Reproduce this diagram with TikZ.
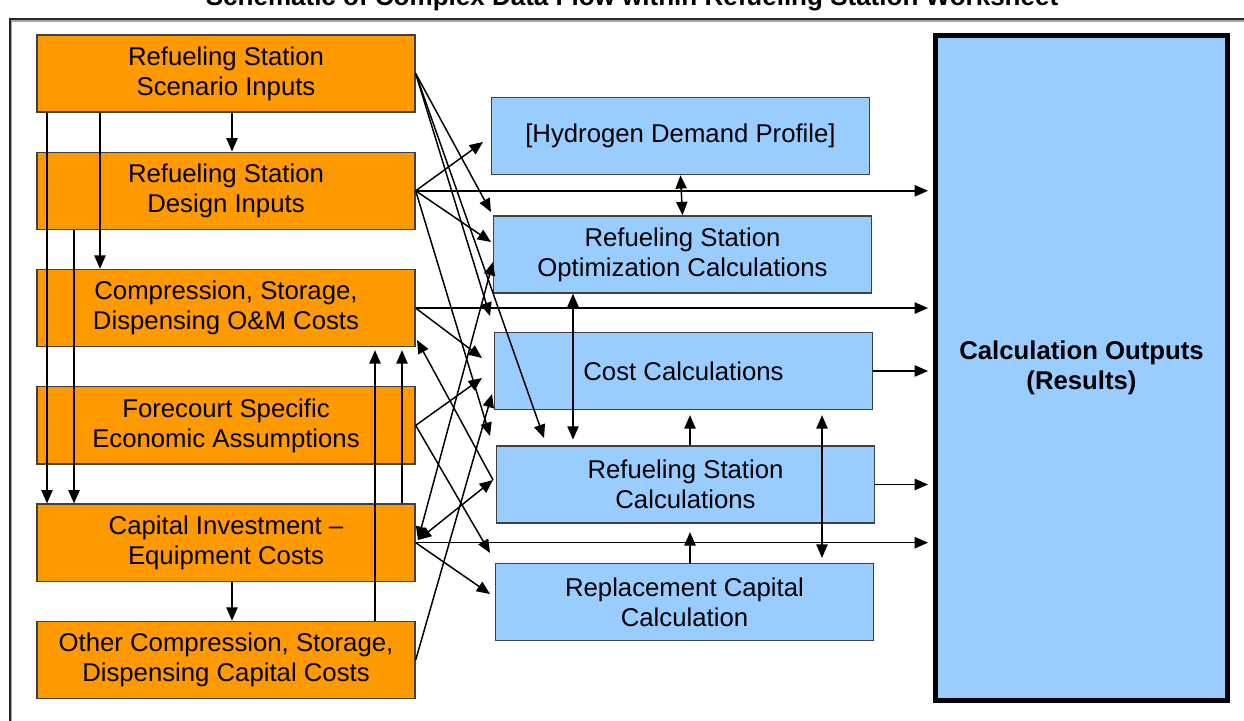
\documentclass[tikz,border=0pt]{standalone}
\usepackage{fontspec}
\setmainfont{Liberation Sans}
\usetikzlibrary{positioning, arrows.meta}

\definecolor{inputorange}{HTML}{FF9900}
\definecolor{calcblue}{HTML}{99CCFF}
\newcommand{\boxfont}{\fontsize{18.3}{21.3}\selectfont}

\tikzset{
  inbox/.style = {rectangle, draw=black!75, line width=0.9pt, fill=inputorange,
                  minimum width=9.45cm, minimum height=1.93cm, align=center, font=\boxfont},
  calcbox/.style = {rectangle, draw=black!75, line width=0.9pt, fill=calcblue,
                    minimum width=9.45cm, minimum height=1.93cm, align=center, font=\boxfont},
  outbox/.style = {rectangle, draw=black, line width=3.5pt, fill=calcblue,
                   minimum width=7.3cm, minimum height=16.62cm, align=center, font=\boxfont\bfseries},
}

\begin{document}
\begin{tikzpicture}[x=0.025cm, y=-0.025cm, >={Triangle[length=9.5pt, width=8pt]}, line width=1.05pt, node distance=0.97cm]
  \useasboundingbox (0,0) rectangle (1244,721);
  \draw[black!35, line width=1.2pt] (11,21) rectangle (1262,745);
  \draw[black!85, line width=1.1pt] (10,19) rectangle (1262,745);
  \node[anchor=base, font=\fontsize{18.5}{22}\selectfont\bfseries] (title) at (632,6)
    {Schematic of Complex Data Flow within Refueling Station Worksheet};

  % input worksheets
  \node[inbox] (scen) at (226,73.5) {Refueling Station\\Scenario Inputs};
  \node[inbox] (design) [below = of scen] {Refueling Station\\Design Inputs};
  \node[inbox] (om) [below = of design] {Compression, Storage,\\Dispensing O\&M Costs};
  \node[inbox] (econ) [below = of om] {Forecourt Specific\\Economic Assumptions};
  \node[inbox] (capex) [below = of econ] {Capital Investment --\\Equipment Costs};
  \node[inbox] (other) [below = of capex] {Other Compression, Storage,\\Dispensing Capital Costs};

  % calculations
  \node[calcbox] (demand) at (680.5,136) {[Hydrogen Demand Profile]};
  \node[calcbox] (optim) [below = 1cm of demand, xshift=0.05cm] {Refueling Station\\Optimization Calculations};
  \node[calcbox] (cost) [below = 0.95cm of optim, xshift=0.025cm] {Cost Calculations};
  \node[calcbox] (station) [below = 0.875cm of cost, xshift=0.05cm] {Refueling Station\\Calculations};
  \node[calcbox] (repl) [below = 0.975cm of station, xshift=-0.025cm] {Replacement Capital\\Calculation};

  \node[outbox] (results) at (1081.5,368) {Calculation Outputs\\(Results)};

  % arrow ends between the columns
  \coordinate (optimCorner) at (491,212);
  \coordinate (gapOC) at (490,316);
  \coordinate (gapCS) at (544,438);
  \coordinate (demandIn) at (483,142);
  \coordinate (optimMid) at (491,242);
  \coordinate (gapCS2) at (490,436);
  \coordinate (costHi) at (482,358);
  \coordinate (costLo) at (482,378);
  \coordinate (gapSR) at (490,553);
  \coordinate (optimIn) at (493,262);
  \coordinate (stationIn) at (493,480);
  \coordinate (replIn) at (490,594);
  \coordinate (costIn) at (492,394);
  \coordinate (omIn) at (417,340);
  \coordinate (capexIn) at (418,540);

  \path[->]
    (scen.south -| 232,0) edge (design.north -| 232,0)
    (scen.south -| 100,0) edge (om.north -| 100,0)
    (scen.south -| 47,0) edge (capex.north -| 47,0)
    (design.south -| 74,0) edge (capex.north -| 74,0)
    (capex.south -| 232,0) edge (other.north -| 232,0)
    (other.north -| 375,0) edge [shorten >=2pt] (om.south -| 375,0)
    (capex.north -| 402,0) edge [shorten >=2pt] (om.south -| 402,0)

    (scen.east) edge (optimCorner)
    (scen.east) edge (gapOC)
    (scen.east) edge (gapCS)
    (design.east) edge (demandIn)
    (design.east) edge (optimMid)
    (design.east) edge (gapCS2)
    (om.east) edge (costHi)
    (econ.east) edge (costLo)
    (econ.east) edge (gapSR)
    (capexIn) edge [<->] (optimIn)
    (capexIn) edge [<->] (stationIn)
    (stationIn) edge (omIn)
    (capex.east) edge (replIn)
    (other.east) edge (costIn)

    (design.east) edge [shorten >=3.5pt] (design.east -| results.west)
    (om.east) edge [shorten >=3.5pt] (om.east -| results.west)
    (capex.east) edge [shorten >=3.5pt] (capex.east -| results.west)
    (cost.east) edge [shorten >=3.5pt] (cost.east -| results.west)
    (station.east) edge [shorten >=3.5pt] (station.east -| results.west)

    (demand.south) edge [<->] (optim.north)
    (optim.south -| 573,0) edge [<->, shorten >=4pt] (station.north -| 573,0)
    (station.north -| 690,0) edge [shorten >=3.5pt] (cost.south -| 690,0)
    (repl.north -| 690,0) edge [shorten >=6pt] (station.south -| 690,0)
    (cost.south -| 822,0) edge [<->, shorten <=3.5pt, shorten >=3.5pt] (repl.north -| 822,0)
  ;
\end{tikzpicture}
\end{document}
